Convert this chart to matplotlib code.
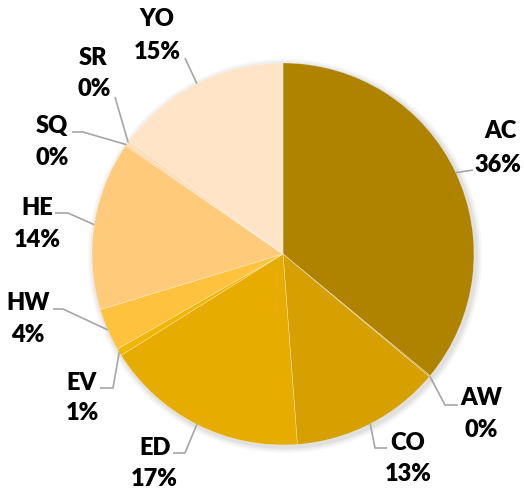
import numpy as np
import matplotlib.pyplot as plt
from matplotlib.patches import Circle

# slice data (percent of total), drawn clockwise from 12 o'clock
labels = ['AC', 'AW', 'CO', 'ED', 'EV', 'HW', 'HE', 'SQ', 'SR', 'YO']
values = [36.0, 0.1, 12.7, 17.3, 0.6, 3.6, 14.3, 0.2, 0.3, 14.9]
pct_text = ['36%', '0%', '13%', '17%', '1%', '4%', '14%', '0%', '0%', '15%']
colors = ['#AF8200', '#C49100', '#D6A000', '#E6AD00', '#F2B600',
          '#FFC23C', '#FFCB7A', '#FFD6A2', '#FFDDB4', '#FFE4C7']

W, H = 524, 490
CX, CY, R = 283, 254, 191   # pie centre / radius in pixels (y from top)

# label layout in pixels (y from top): name xy, percent xy, leader points
label_pos = {
    'AC': ((501, 138), (498, 172), [(473, 170)]),
    'AW': ((481, 405), (481, 437), [(458, 405), (445, 405)]),
    'CO': ((408, 450), (408, 481), [(387, 448), (375, 448)]),
    'ED': ((155, 455), (154, 486), [(173, 453), (185, 453)]),
    'EV': ((82, 390), (82, 420), [(100, 388), (113, 388)]),
    'HW': ((28, 310), (28, 342), [(53, 309), (63, 309)]),
    'HE': ((37, 215), (37, 247), [(55, 213), (68, 213)]),
    'SQ': ((52, 133), (52, 165), [(72, 132), (83, 132)]),
    'SR': ((93, 65), (94, 96), [(115, 97)]),
    'YO': ((157, 26), (157, 59), [(185, 58)]),
}

fig = plt.figure(figsize=(W / 100, H / 100), dpi=100)
ax = fig.add_axes([0, 0, 1, 1])

# soft shadow behind the pie
for k, a in [(6, 0.03), (4, 0.04), (2, 0.05)]:
    ax.add_patch(Circle((CX + 2, H - CY - 2), R + k, color='black', alpha=a, lw=0, zorder=0))

wedges, _ = ax.pie(values, colors=colors, startangle=90, counterclock=False,
                   center=(CX, H - CY), radius=R,
                   wedgeprops=dict(edgecolor='#FFFFFF80', linewidth=0.4))

for w, lab, pct in zip(wedges, labels, pct_text):
    mid = np.deg2rad((w.theta1 + w.theta2) / 2)
    edge = (CX + R * np.cos(mid), H - CY + R * np.sin(mid))
    name_xy, pct_xy, pts = label_pos[lab]
    xs = [p[0] for p in pts] + [edge[0]]
    ys = [H - p[1] for p in pts] + [edge[1]]
    ax.plot(xs, ys, color='#A6A6A6', lw=1.2, solid_capstyle='butt', zorder=3)
    ax.text(name_xy[0], H - name_xy[1], lab, ha='center', va='baseline',
            fontsize=17, fontweight='heavy', family='Lato', color='black')
    ax.text(pct_xy[0], H - pct_xy[1], pct, ha='center', va='baseline',
            fontsize=17, fontweight='heavy', family='Lato', color='black')

ax.set_xlim(0, W)
ax.set_ylim(0, H)
ax.axis('off')

fig.savefig('out.png', dpi=100)
